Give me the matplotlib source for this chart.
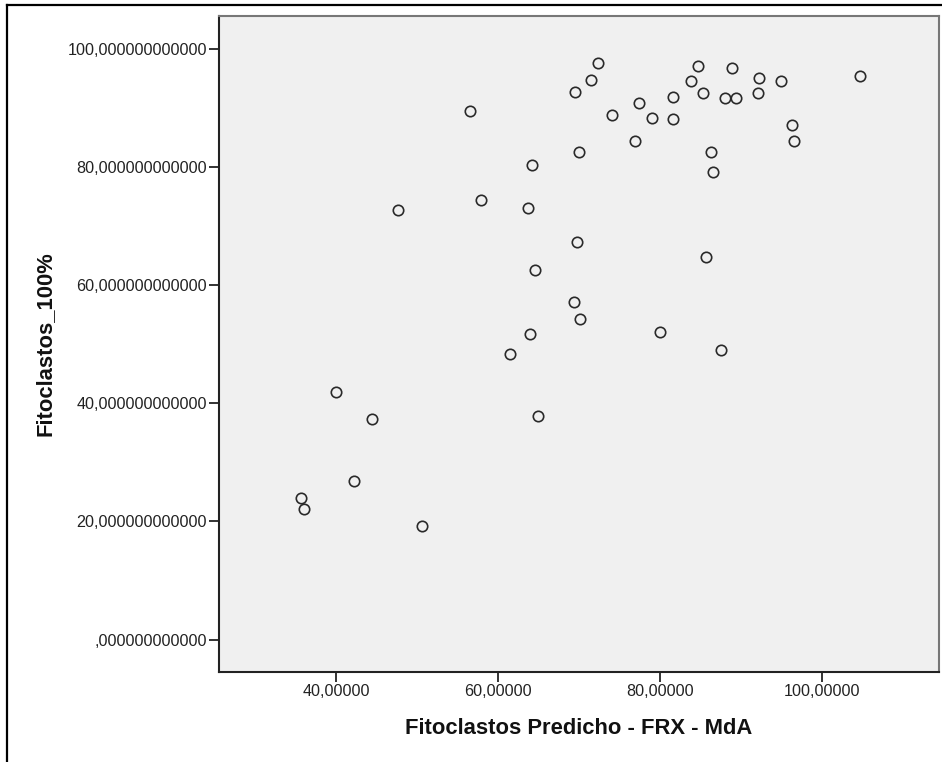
import matplotlib
matplotlib.use("Agg")
import matplotlib.pyplot as plt
from matplotlib.lines import Line2D
from matplotlib.ticker import FuncFormatter

plt.rcParams['font.family'] = ['Liberation Sans', 'DejaVu Sans']

# Predicted phytoclast content (FRX - MdA) vs. observed phytoclasts (100%)
fitoclastos_predicho = [
    72.35, 71.4, 69.4, 56.5, 74.0, 69.95, 64.1, 57.9, 47.6, 63.7, 69.7, 64.5,
    84.6, 88.9, 83.8, 92.2, 94.9, 104.7, 77.3, 81.6, 85.2, 88.0, 89.3, 92.1,
    79.0, 81.5, 76.9, 96.2, 96.5, 86.2, 86.5, 85.6,
    69.3, 70.1, 63.9, 61.4, 39.9, 44.4, 64.9, 42.2, 50.6,
    79.95, 87.5, 35.6, 36.0,
]
fitoclastos_100 = [
    97.7, 94.8, 92.7, 89.5, 88.75, 82.5, 80.3, 74.4, 72.8, 73.1, 67.4, 62.6,
    97.1, 96.8, 94.6, 95.1, 94.6, 95.5, 90.9, 91.8, 92.5, 91.7, 91.7, 92.6,
    88.4, 88.2, 84.4, 87.2, 84.4, 82.5, 79.2, 64.8,
    57.2, 54.2, 51.7, 48.3, 41.9, 37.4, 37.8, 26.9, 19.2,
    52.1, 49.0, 24.0, 22.1,
]

x_ticks = [40, 60, 80, 100]
y_ticks = [0, 20, 40, 60, 80, 100]
x_label = "Fitoclastos Predicho - FRX - MdA"
y_label = "Fitoclastos_100%"

W, H = 942, 762
fig = plt.figure(figsize=(W / 100, H / 100), dpi=100)
fig.patch.set_facecolor("white")

left, right, top, bottom = 219, 939, 16, 672
ax = fig.add_axes([left / W, (H - bottom) / H, (right - left) / W, (bottom - top) / H])
ax.set_facecolor("#f0f0f0")

ax.plot(fitoclastos_predicho, fitoclastos_100, linestyle="none", marker="o",
        markersize=7.5, markerfacecolor="none", markeredgecolor="#2a2a2a",
        markeredgewidth=1.2, zorder=3)

ax.set_xlim(25.5, 114.4)
ax.set_ylim(-5.5, 105.6)
ax.set_xticks(x_ticks)
ax.set_yticks(y_ticks)


def fmt_decimal(decimals):
    def f(v, pos):
        s = f"{v:.{decimals}f}".replace(".", ",")
        if s.startswith("0,"):
            s = s[1:]
        return s
    return FuncFormatter(f)


ax.xaxis.set_major_formatter(fmt_decimal(5))
ax.yaxis.set_major_formatter(fmt_decimal(12))

ax.tick_params(axis="both", which="major", length=7, width=1.4, color="#333333",
               labelsize=11.6, labelcolor="#222222", pad=1.5)

for side in ("left", "bottom"):
    ax.spines[side].set_color("#222222")
    ax.spines[side].set_linewidth(1.5)
for side in ("top", "right"):
    ax.spines[side].set_color("#777777")
    ax.spines[side].set_linewidth(1.5)

ax.set_xlabel(x_label, fontsize=15.8, fontweight="bold", color="#111111", va="center")
ax.xaxis.set_label_coords(0.5, (bottom - 728) / (bottom - top))
ax.set_ylabel(y_label, fontsize=15.8, fontweight="bold", color="#111111", va="center")
ax.yaxis.set_label_coords((45 - left) / (right - left), 0.5)

# outer frame lines (left and top)
fig.add_artist(Line2D([6.5 / W, 6.5 / W], [0, 1 - 5 / H], transform=fig.transFigure,
                      color="black", linewidth=1.6))
fig.add_artist(Line2D([6.5 / W, 1], [1 - 5 / H, 1 - 5 / H], transform=fig.transFigure,
                      color="black", linewidth=1.6))

fig.savefig("out.png", dpi=100, facecolor="white")
